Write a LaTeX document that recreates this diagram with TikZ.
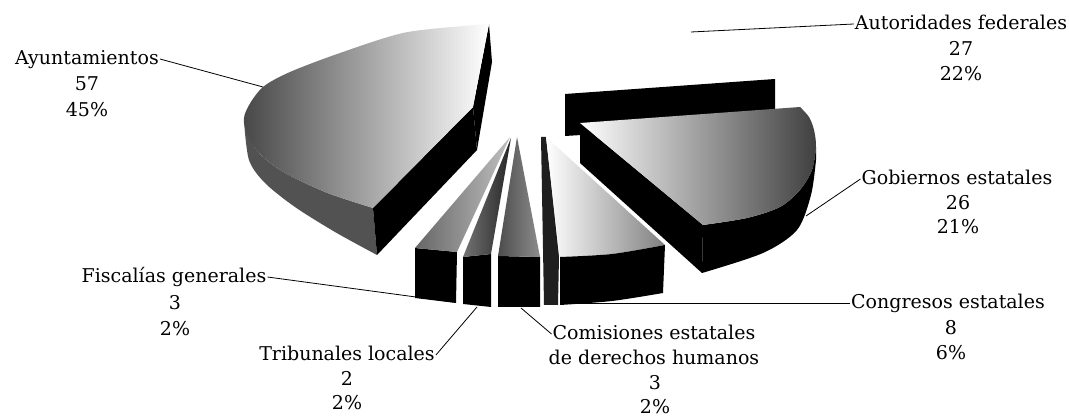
\documentclass[tikz,border=0pt]{standalone}
\usepackage{fontspec}
\setmainfont{DejaVu Serif}
\begin{document}
\begin{tikzpicture}[x=1pt,y=-1pt]
\tikzset{
  lbl/.style={font=\fontsize{19}{25}\selectfont, inner sep=0pt, anchor=base},
  lblfirst/.style={lbl, text height=12pt, text depth=0pt, inner xsep=1pt},
  leader/.style={draw=black, line width=0.8pt},
  blackface/.style={fill=black},
}
\fill[white] (0,0) rectangle (1069,419);
\useasboundingbox (0,0) rectangle (1069,419);

% ---------- Autoridades federales (only its dark side face shows)
\fill[blackface] (565,94) -- (775,79) -- (775,123) -- (565,136) -- cycle;

% ---------- Ayuntamientos
\fill[black!68] plot[smooth] coordinates {(244,121) (255,148) (280,170) (325,192) (373,208)}
   -- (377,255) -- plot[smooth] coordinates {(377,255) (335,232) (295,207) (265,183) (249,160) (244,121)} -- cycle;
\fill[blackface] (489,24) -- (492,62) -- (477,150) -- (473,107) -- cycle;
\fill[blackface] (473,107) -- (373,208) -- (377,255) -- (477,150) -- cycle;
\shade[left color=black!72, middle color=black!35, right color=white]
  (473,107) -- plot[smooth] coordinates {(489,24) (463,26) (403,33) (340,53) (290,72) (263,87) (248,107) (244,123) (255,148) (280,170) (325,192) (373,208)} -- cycle;

% ---------- Fiscalias generales
\fill[blackface] (415,248) -- (457,252) -- (456,303) -- (415,298) -- cycle;
\shade[left color=black!60, right color=black!25] (510,137) -- (415,248) -- (457,252) -- cycle;

% ---------- Tribunales locales
\fill[blackface] (463,257) -- (491,254) -- (491,307) -- (463,304) -- cycle;
\shade[left color=black!55, right color=black!85] (511,138) -- (463,257) -- (491,254) -- cycle;

% ---------- Comisiones estatales
\fill[blackface] (498,256) -- (540,257) -- (540,307) -- (498,307) -- cycle;
\shade[left color=black!70, right color=black!45] (517,137) -- (498,256) -- (540,257) -- cycle;

% ---------- Congresos estatales
\fill[black!88] (541,137) -- (546,137) -- (559,257) -- (558,305) -- (544,305) -- cycle;
\shade[left color=white, right color=black!50]
  (546,137) -- plot[smooth] coordinates {(560,257) (612,254) (665,245)} -- cycle;
\fill[blackface] plot[smooth] coordinates {(560,257) (612,254) (665,245)}
  -- (663,293) -- plot[smooth] coordinates {(663,293) (612,301) (560,305)} -- cycle;

% ---------- Gobiernos estatales
\fill[blackface] (580,123) -- (703,225) -- (702,273) -- (580,163) -- cycle;
\fill[blackface] plot[smooth] coordinates {(703,225) (747,218) (780,207) (800,190) (812,170) (816,147)}
  -- plot[smooth] coordinates {(816,160) (811,195) (797,230) (763,253) (702,273)} -- cycle;
\shade[left color=white, middle color=black!20, right color=black!75]
  (580,123) -- plot[smooth] coordinates {(800,107) (809,117) (814,130) (816,147) (812,170) (800,190) (780,207) (747,218) (703,225)} -- cycle;

% ---------- leader end points on the slices
\coordinate (ayuC) at (263,87);
\coordinate (autC) at (691,32);
\coordinate (gobC) at (806,216);
\coordinate (conC) at (560,303);
\coordinate (fisC) at (453,302);
\coordinate (triC) at (477,307);
\coordinate (comC) at (521,308);

% ---------- labels
\node[lblfirst] (ayuT) at (87,65) {Ayuntamientos};
\node[lbl] (ayuN) at (87,91) {57};
\node[lbl] (ayuP) at (87,117) {45\%};

\node[lblfirst] (autT) at (961,30) {Autoridades federales};
\node[lbl] (autN) at (961,56) {27};
\node[lbl] (autP) at (961,81) {22\%};

\node[lblfirst] (gobT) at (957,185) {Gobiernos estatales};
\node[lbl] (gobN) at (958,210) {26};
\node[lbl] (gobP) at (958,234) {21\%};

\node[lblfirst] (conT) at (948,309) {Congresos estatales};
\node[lbl] (conN) at (951,335) {8};
\node[lbl] (conP) at (951,360) {6\%};

\node[lblfirst] (fisT) at (174,283) {Fiscalías generales};
\node[lbl] (fisN) at (175,310) {3};
\node[lbl] (fisP) at (175,336) {2\%};

\node[lblfirst] (triT) at (347,361) {Tribunales locales};
\node[lbl] (triN) at (347,386) {2};
\node[lbl] (triP) at (347,410) {2\%};

\node[lblfirst] (comT) at (654,340) {Comisiones estatales};
\node[lbl] (comT2) at (654,365) {de derechos humanos};
\node[lbl] (comN) at (655,390) {3};
\node[lbl] (comP) at (655,414) {2\%};

% ---------- leaders
\draw[leader] (ayuT.east) -- (ayuC);
\draw[leader] (autT.west) -- (autC);
\draw[leader] (gobT.west) -- (gobC);
\draw[leader] (conT.west) -- (conC);
\draw[leader] (fisT.east) -- (fisC);
\draw[leader] (triT.east) -- (triC);
\draw[leader] (comT.west) -- (comC);
\end{tikzpicture}
\end{document}
